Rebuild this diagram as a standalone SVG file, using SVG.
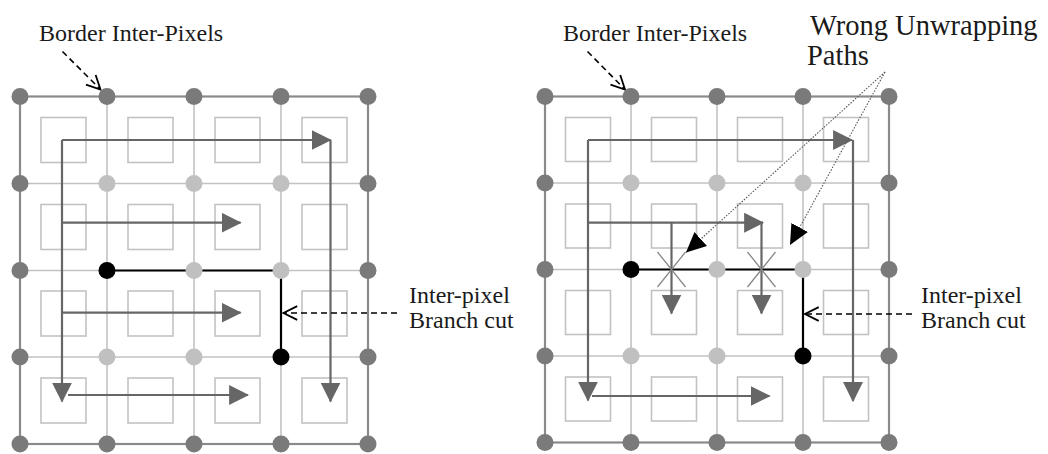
<svg xmlns="http://www.w3.org/2000/svg" width="1048" height="454" viewBox="0 0 1048 454">
<style>
.bg{fill:#ffffff}
.border{stroke:#8a8a8a;stroke-width:2.2;fill:none}
.inner{stroke:#c2c2c2;stroke-width:1.6;fill:none}
.px{stroke:#c2c2c2;stroke-width:1.6;fill:none}
.dd{fill:#7a7a7a}
.ld{fill:#c0c0c0}
.bd{fill:#000000}
.path{stroke:#666666;stroke-width:2.2;fill:none;marker-end:url(#ah)}
.cut{stroke:#000000;stroke-width:2.2;fill:none}
.star{stroke:#888888;stroke-width:1.3;fill:none}
.dash{stroke:#000000;stroke-width:1.6;fill:none;stroke-dasharray:6 4;marker-end:url(#open)}
.dot{stroke:#555555;stroke-width:1.1;fill:none;stroke-dasharray:1.5 1.5;marker-end:url(#blk)}
.lbl{font-family:"Liberation Serif","Times New Roman",serif;font-size:24px;fill:#1a1a1a}
.big{font-family:"Liberation Serif","Times New Roman",serif;font-size:28.5px;fill:#1a1a1a}
</style>
<defs>
<marker id="ah" markerUnits="userSpaceOnUse" markerWidth="20" markerHeight="20" viewBox="0 0 18 18" refX="17" refY="9" orient="auto">
<path d="M0,0 L18,9 L0,18 Z" fill="#666666"/>
</marker>
<marker id="blk" markerUnits="userSpaceOnUse" markerWidth="20" markerHeight="20" viewBox="0 0 17 16" refX="17" refY="8" orient="auto">
<path d="M0,0 L17,8 L0,16 Z" fill="#000000"/>
</marker>
<marker id="open" markerUnits="userSpaceOnUse" markerWidth="16" markerHeight="16" viewBox="0 0 14 14" refX="13" refY="7" orient="auto" overflow="visible">
<path d="M1,1 L13,7 L1,13" fill="none" stroke="#000000" stroke-width="1.6" stroke-dasharray="none"/>
</marker>
</defs>
<rect class="bg" x="0" y="0" width="1048" height="454"/>

<g id="left-grid">
<g id="left-lines">
<path class="inner" d="M20,183.5 H368 M20,270.5 H368 M20,357 H368 M107,96.5 V444 M194,96.5 V444 M281,96.5 V444"/>
<rect class="border" x="20" y="96.5" width="348" height="347.5"/>
</g>
<g id="left-pixels">
<rect class="px" x="41" y="117.5" width="45" height="45"/><rect class="px" x="128" y="117.5" width="45" height="45"/><rect class="px" x="215" y="117.5" width="45" height="45"/><rect class="px" x="302" y="117.5" width="45" height="45"/>
<rect class="px" x="41" y="204.5" width="45" height="45"/><rect class="px" x="128" y="204.5" width="45" height="45"/><rect class="px" x="215" y="204.5" width="45" height="45"/><rect class="px" x="302" y="204.5" width="45" height="45"/>
<rect class="px" x="41" y="291" width="45" height="45"/><rect class="px" x="128" y="291" width="45" height="45"/><rect class="px" x="215" y="291" width="45" height="45"/><rect class="px" x="302" y="291" width="45" height="45"/>
<rect class="px" x="41" y="378" width="45" height="45"/><rect class="px" x="128" y="378" width="45" height="45"/><rect class="px" x="215" y="378" width="45" height="45"/><rect class="px" x="302" y="378" width="45" height="45"/>
</g>
</g>

<g id="right-grid">
<g id="right-lines">
<path class="inner" d="M545,183 H889 M545,269.5 H889 M545,356 H889 M631,96.5 V442.5 M717,96.5 V442.5 M803,96.5 V442.5"/>
<rect class="border" x="545" y="96.5" width="344" height="346"/>
</g>
<g id="right-pixels">
<rect class="px" x="565.5" y="117.5" width="45" height="44"/><rect class="px" x="651.5" y="117.5" width="45" height="44"/><rect class="px" x="737.5" y="117.5" width="45" height="44"/><rect class="px" x="823.5" y="117.5" width="45" height="44"/>
<rect class="px" x="565.5" y="204" width="45" height="44"/><rect class="px" x="651.5" y="204" width="45" height="44"/><rect class="px" x="737.5" y="204" width="45" height="44"/><rect class="px" x="823.5" y="204" width="45" height="44"/>
<rect class="px" x="565.5" y="290.5" width="45" height="44"/><rect class="px" x="651.5" y="290.5" width="45" height="44"/><rect class="px" x="737.5" y="290.5" width="45" height="44"/><rect class="px" x="823.5" y="290.5" width="45" height="44"/>
<rect class="px" x="565.5" y="377" width="45" height="44"/><rect class="px" x="651.5" y="377" width="45" height="44"/><rect class="px" x="737.5" y="377" width="45" height="44"/><rect class="px" x="823.5" y="377" width="45" height="44"/>
</g>
</g>

<g id="connectors">
<g id="left-paths">
<path class="path" d="M62,140 V401.5"/>
<path class="path" d="M62,140 H330.5"/>
<path class="path" d="M330.5,140 V401.5"/>
<path class="path" d="M62,222.7 H240.5"/>
<path class="path" d="M62,312.7 H240.5"/>
<path class="path" d="M68,395 H248"/>
</g>
<g id="left-cut">
<path class="cut" d="M107,270.5 H281 V357"/>
</g>
<g id="right-paths">
<path class="path" d="M588,140 V400.5"/>
<path class="path" d="M588,140 H852"/>
<path class="path" d="M853,140 V401"/>
<path class="path" d="M588,222.7 H763"/>
<path class="path" d="M671.5,222.7 V313.5"/>
<path class="path" d="M761.5,222.7 V313.5"/>
<path class="path" d="M592,396 H769.5"/>
</g>
<g id="right-cut">
<path class="cut" d="M631,269.5 H803 V356"/>
</g>
<g id="stars">
<path class="star" d="M657.5,252 L685.5,287 M685.5,252 L657.5,287"/>
<path class="star" d="M747.5,252 L775.5,287 M775.5,252 L747.5,287"/>
</g>
<g id="pointers">
<path class="dash" d="M62.5,51.5 L100.5,89.5"/>
<path class="dash" d="M587.5,51.5 L625,89.5"/>
<path class="dash" d="M397,313 H283.5"/>
<path class="dash" d="M912,314 H805"/>
<path class="dot" d="M885,72 L686,252.5"/>
<path class="dot" d="M885,72 L790,245"/>
</g>
</g>

<g id="left-dots">
<circle class="dd" cx="20" cy="96.5" r="8.5"/><circle class="dd" cx="107" cy="96.5" r="8.5"/><circle class="dd" cx="194" cy="96.5" r="8.5"/><circle class="dd" cx="281" cy="96.5" r="8.5"/><circle class="dd" cx="368" cy="96.5" r="8.5"/>
<circle class="dd" cx="20" cy="183.5" r="8.5"/><circle class="ld" cx="107" cy="183.5" r="8.5"/><circle class="ld" cx="194" cy="183.5" r="8.5"/><circle class="ld" cx="281" cy="183.5" r="8.5"/><circle class="dd" cx="368" cy="183.5" r="8.5"/>
<circle class="dd" cx="20" cy="270.5" r="8.5"/><circle class="bd" cx="107" cy="270.5" r="8.5"/><circle class="ld" cx="194" cy="270.5" r="8.5"/><circle class="ld" cx="281" cy="270.5" r="8.5"/><circle class="dd" cx="368" cy="270.5" r="8.5"/>
<circle class="dd" cx="20" cy="357" r="8.5"/><circle class="ld" cx="107" cy="357" r="8.5"/><circle class="ld" cx="194" cy="357" r="8.5"/><circle class="bd" cx="281" cy="357" r="8.5"/><circle class="dd" cx="368" cy="357" r="8.5"/>
<circle class="dd" cx="20" cy="444" r="8.5"/><circle class="dd" cx="107" cy="444" r="8.5"/><circle class="dd" cx="194" cy="444" r="8.5"/><circle class="dd" cx="281" cy="444" r="8.5"/><circle class="dd" cx="368" cy="444" r="8.5"/>
</g>
<g id="right-dots">
<circle class="dd" cx="545" cy="96.5" r="8.5"/><circle class="dd" cx="631" cy="96.5" r="8.5"/><circle class="dd" cx="717" cy="96.5" r="8.5"/><circle class="dd" cx="803" cy="96.5" r="8.5"/><circle class="dd" cx="889" cy="96.5" r="8.5"/>
<circle class="dd" cx="545" cy="183" r="8.5"/><circle class="ld" cx="631" cy="183" r="8.5"/><circle class="ld" cx="717" cy="183" r="8.5"/><circle class="ld" cx="803" cy="183" r="8.5"/><circle class="dd" cx="889" cy="183" r="8.5"/>
<circle class="dd" cx="545" cy="269.5" r="8.5"/><circle class="bd" cx="631" cy="269.5" r="8.5"/><circle class="ld" cx="717" cy="269.5" r="8.5"/><circle class="ld" cx="803" cy="269.5" r="8.5"/><circle class="dd" cx="889" cy="269.5" r="8.5"/>
<circle class="dd" cx="545" cy="356" r="8.5"/><circle class="ld" cx="631" cy="356" r="8.5"/><circle class="ld" cx="717" cy="356" r="8.5"/><circle class="bd" cx="803" cy="356" r="8.5"/><circle class="dd" cx="889" cy="356" r="8.5"/>
<circle class="dd" cx="545" cy="442.5" r="8.5"/><circle class="dd" cx="631" cy="442.5" r="8.5"/><circle class="dd" cx="717" cy="442.5" r="8.5"/><circle class="dd" cx="803" cy="442.5" r="8.5"/><circle class="dd" cx="889" cy="442.5" r="8.5"/>
</g>

<g id="labels">
<text class="lbl" x="39" y="41">Border Inter-Pixels</text>
<text class="lbl" x="563" y="41">Border Inter-Pixels</text>
<text class="big" x="810" y="35">Wrong Unwrapping</text>
<text class="big" x="807" y="65">Paths</text>
<text class="lbl" x="409" y="303">Inter-pixel</text>
<text class="lbl" x="409" y="328">Branch cut</text>
<text class="lbl" x="921" y="303">Inter-pixel</text>
<text class="lbl" x="921" y="328">Branch cut</text>
</g>
</svg>
